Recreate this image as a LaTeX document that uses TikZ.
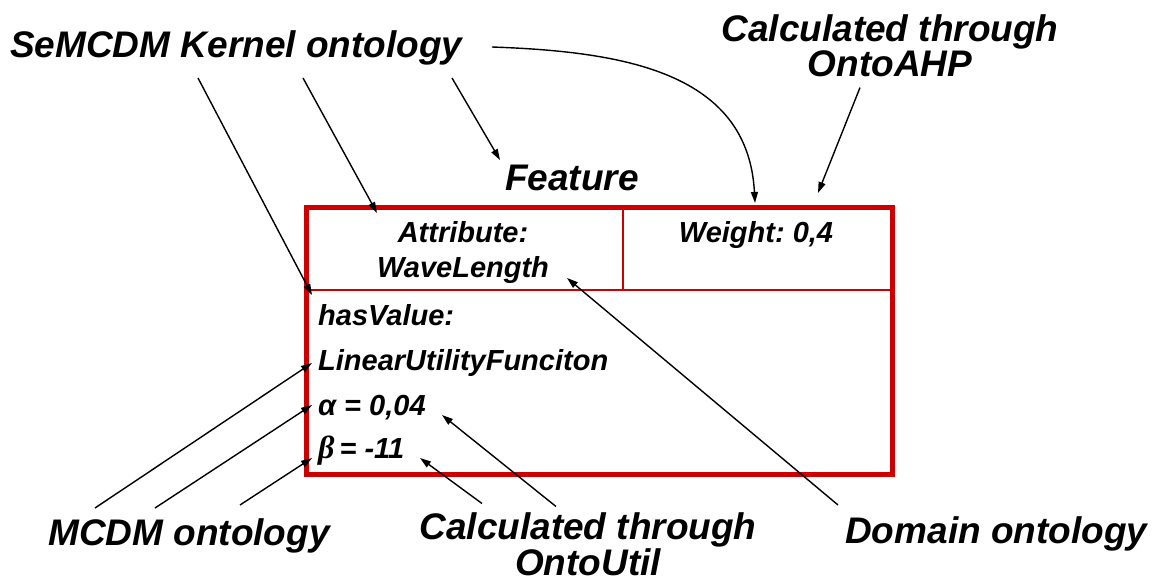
\documentclass[tikz,border=0pt]{standalone}
\usepackage{fontspec}
\setmainfont{Liberation Sans}
\newfontfamily\greekserif{Liberation Serif}
\usetikzlibrary{arrows.meta,positioning}
\definecolor{framered}{RGB}{204,0,0}
\frenchspacing

\begin{document}
\begin{tikzpicture}[
    x=1pt, y=-1pt,
    label/.style={font=\fontsize{37}{32}\selectfont\bfseries\itshape, inner sep=0pt, align=center},
    entry/.style={font=\fontsize{29}{35}\selectfont\bfseries\itshape, inner sep=0pt},
    cell/.style={rectangle, draw=framered, line width=2pt, inner sep=0pt, anchor=north west},
    frame/.style={rectangle, draw=framered, line width=5pt, inner sep=0pt, anchor=north west},
    arrow/.style={-{Triangle[length=11pt,width=7pt]}, line width=1.4pt}
]
\useasboundingbox (0,0) rectangle (1155,581);
% the feature box
\node[cell, minimum width=318pt, minimum height=84pt] (attrcell) at (304,205) {};
\node[cell, minimum width=268pt, minimum height=84pt] (wtcell) at (622,205) {};
\node[frame, minimum width=586pt, minimum height=267pt] (feat) at (304,205) {};
\node[entry, anchor=base] (attra) at (463,242) {Attribute:};
\node[entry, anchor=base] (attrb) at (463,277) {WaveLength};
\node[entry, anchor=base] (weight) at (756,242) {Weight: 0,4};
\node[entry, anchor=base west] (hasval) at (318,325) {hasValue:};
\node[entry, anchor=base west] (linfun) at (318,370) {LinearUtilityFunciton};
\node[entry, anchor=base west] (alpha) at (318,415) {α = 0,04};
\node[entry, anchor=base west] (beta) at (318,458) {{\greekserif\fontsize{32}{35}\selectfont β}\hspace{5pt}= -11};
% labels round it
\node[label, anchor=base west] (kernel) at (10,57) {SeMCDM Kernel ontology};
\node[label, anchor=base] (ahp) at (890,76) {Calculated through\\OntoAHP};
\node[label, anchor=base west] (title) at (505,190) {Feature};
\node[label, anchor=base west] (mcdm) at (48,545) {MCDM ontology};
\node[label, anchor=base] (util) at (588,575) {Calculated through\\OntoUtil};
\node[label, anchor=base west] (domain) at (845,543) {Domain ontology};
% arrow tips
\coordinate (tipval) at (312,295);
\coordinate (tipattr) at (377,213);
\coordinate (tipfeat) at (500,160);
\coordinate (tipwt) at (755,203);
\coordinate (tipahp) at (818,193);
\coordinate (tiplin) at (312,363);
\coordinate (tipalpha) at (312,405);
\coordinate (tipbeta) at (312,458);
\coordinate (tipalphar) at (442,415);
\coordinate (tipbetar) at (420,458);
\coordinate (tipwave) at (567,278);
% connectors
\draw[arrow] ([shift={(188,21)}]kernel.base west) -- (tipval);
\draw[arrow] ([shift={(293,21)}]kernel.base west) -- (tipattr);
\draw[arrow] ([shift={(442,21)}]kernel.base west) -- (tipfeat);
\draw[arrow] ([shift={(482,-10)}]kernel.base west) to[out=-2,in=93,looseness=1.1] (tipwt);
\draw[arrow] ([shift={(-30,11)}]ahp.south) -- (tipahp);
\draw[arrow] ([shift={(47,-37)}]mcdm.base west) -- (tiplin);
\draw[arrow] ([shift={(107,-37)}]mcdm.base west) -- (tipalpha);
\draw[arrow] ([shift={(192,-40)}]mcdm.base west) -- (tipbeta);
\draw[arrow] ([shift={(-106,-9)}]util.north) -- (tipbetar);
\draw[arrow] ([shift={(-32,-6)}]util.north) -- (tipalphar);
\draw[arrow] ([shift={(-7,-38)}]domain.base west) -- (tipwave);
\end{tikzpicture}
\end{document}
